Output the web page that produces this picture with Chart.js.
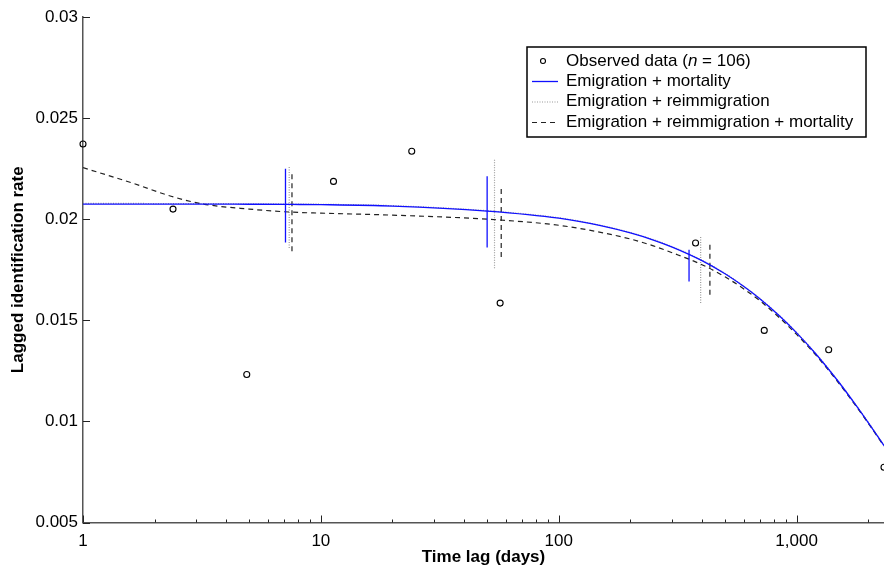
<!DOCTYPE html>
<html>
<head>
<meta charset="utf-8">
<script src="https://cdn.jsdelivr.net/npm/chart.js@4.4.1/dist/chart.umd.min.js"></script>
<style>
  html, body { margin: 0; padding: 0; background: #fff; }
  canvas { display: block; }
</style>
</head>
<body>
<canvas id="chart" width="884" height="577"></canvas>
<script>
// observed points
const obsDays = [1, 2.39, 4.88, 11.3, 24.1, 56.7, 376, 731, 1364, 2330];
const obsRate = [0.02372, 0.0205, 0.01232, 0.02187, 0.02336, 0.01585, 0.01882, 0.0145, 0.01354, 0.00773];

// fitted curves
const curveDays = [1, 1.6, 2.4, 3.2, 5, 7.5, 10, 20, 50, 100, 150, 200, 250, 300, 400, 500, 600, 700, 850, 1000, 1200, 1500, 1750, 2000, 2330];
const emigMort = [0.02075, 0.02075, 0.02075, 0.02075, 0.02074, 0.02073, 0.02072, 0.02065, 0.0204, 0.02005, 0.01968, 0.01932, 0.01897, 0.01862, 0.01795, 0.0173, 0.01667, 0.01607, 0.0152, 0.01438, 0.01336, 0.01196, 0.0109, 0.00994, 0.0088];
const emigReimm = [0.02078, 0.02078, 0.02077, 0.02077, 0.02076, 0.02075, 0.02074, 0.02067, 0.02042, 0.02007, 0.0197, 0.01934, 0.01899, 0.01864, 0.01797, 0.01732, 0.01669, 0.01609, 0.01522, 0.0144, 0.01338, 0.01198, 0.01092, 0.00996, 0.00882];
const emigReimmMort = [0.02255, 0.0218, 0.0211, 0.02075, 0.0205, 0.02035, 0.0203, 0.0202, 0.0200, 0.0197, 0.01935, 0.01902, 0.01868, 0.01834, 0.01775, 0.01715, 0.01655, 0.01597, 0.01511, 0.0143, 0.0133, 0.01191, 0.01086, 0.00991, 0.00878];

// vertical interval bars: x, low, high
const barSolidX = [7.1, 50, 353];
const barSolidLo = [0.01885, 0.0186, 0.01692];
const barSolidHi = [0.0225, 0.02212, 0.01849];
const barDotX = [7.36, 53.7, 395];
const barDotLo = [0.01857, 0.01758, 0.01585];
const barDotHi = [0.02261, 0.02295, 0.0192];
const barDashX = [7.56, 57.3, 432];
const barDashLo = [0.01841, 0.01813, 0.01626];
const barDashHi = [0.02229, 0.02162, 0.01874];

// axes
const xTickValues = [1, 10, 100, 1000];
const xTickLabels = ['1', '10', '100', '1,000'];
const yTickLabels = ['0.005', '0.01', '0.015', '0.02', '0.025', '0.03'];

const BLUE = '#1010ff';
const DOT = '#999';
const DASH = '#222';

const solidStyle = { borderColor: BLUE, borderWidth: 1.3, borderDash: [] };
const dotStyle = { borderColor: DOT, borderWidth: 1.2, borderDash: [1, 1.5] };
const dashStyle = { borderColor: DASH, borderWidth: 1.2, borderDash: [5, 4] };

function curve(vals, style) {
    return Object.assign({
        data: curveDays.map((d, i) => ({ x: d, y: vals[i] })),
        showLine: true,
        pointRadius: 0,
        cubicInterpolationMode: 'monotone',
        fill: false
    }, style);
}

function bars(xs, lo, hi, style) {
    return xs.map((d, i) => Object.assign({
        data: [{ x: d, y: lo[i] }, { x: d, y: hi[i] }],
        showLine: true,
        pointRadius: 0,
        fill: false
    }, style));
}

const datasets = [
    {
        data: obsDays.map((d, i) => ({ x: d, y: obsRate[i] })),
        pointStyle: 'circle',
        pointRadius: 3,
        pointBorderColor: '#000',
        pointBorderWidth: 1.1,
        pointBackgroundColor: 'rgba(255,255,255,0)',
        showLine: false,
        clip: false
    },
    curve(emigMort, solidStyle),
    ...bars(barSolidX, barSolidLo, barSolidHi, solidStyle),
    curve(emigReimmMort, dashStyle),
    ...bars(barDashX, barDashLo, barDashHi, dashStyle),
    curve(emigReimm, dotStyle),
    ...bars(barDotX, barDotLo, barDotHi, dotStyle)
];

// small tick marks pointing into the plot
const innerTicks = {
    id: 'innerTicks',
    afterDraw(chart) {
        const { ctx, chartArea, scales: { x, y } } = chart;
        ctx.save();
        ctx.strokeStyle = '#222';
        ctx.lineWidth = 1;
        x.ticks.forEach(t => {
            const e = Math.floor(Math.log10(t.value) + 1e-9);
            const m = t.value / Math.pow(10, e);
            if (Math.abs(m - Math.round(m)) > 1e-6) return;
            const len = Math.round(m) === 1 ? 7 : 3;
            const px = Math.round(x.getPixelForValue(t.value)) + 0.5;
            ctx.beginPath();
            ctx.moveTo(px, chartArea.bottom);
            ctx.lineTo(px, chartArea.bottom - len);
            ctx.stroke();
        });
        y.ticks.forEach(t => {
            const py = Math.round(y.getPixelForValue(t.value)) + 0.5;
            ctx.beginPath();
            ctx.moveTo(chartArea.left, py);
            ctx.lineTo(chartArea.left + 7, py);
            ctx.stroke();
        });
        ctx.restore();
    }
};

// legend box drawn by hand so the "n" can be italic
const legendBox = {
    id: 'legendBox',
    afterDraw(chart) {
        const ctx = chart.ctx;
        const left = 527, top = 47, w = 339, h = 90;
        const rows = [61, 81, 101.5, 122];
        const tx = 566;
        ctx.save();
        ctx.fillStyle = '#fff';
        ctx.fillRect(left, top, w, h);
        ctx.strokeStyle = '#000';
        ctx.lineWidth = 1.5;
        ctx.strokeRect(left, top, w, h);

        // marker
        ctx.lineWidth = 1.1;
        ctx.beginPath();
        ctx.arc(543, rows[0], 2.5, 0, Math.PI * 2);
        ctx.stroke();

        const samples = [solidStyle, dotStyle, dashStyle];
        samples.forEach((s, i) => {
            ctx.strokeStyle = s.borderColor;
            ctx.lineWidth = s.borderWidth;
            ctx.setLineDash(s.borderDash);
            ctx.beginPath();
            ctx.moveTo(532, rows[i + 1] + 0.5);
            ctx.lineTo(558, rows[i + 1] + 0.5);
            ctx.stroke();
        });
        ctx.setLineDash([]);

        ctx.fillStyle = '#000';
        ctx.textBaseline = 'middle';
        ctx.textAlign = 'left';
        const normal = '17px "Liberation Sans", Arial, sans-serif';
        const italic = 'italic 17px "Liberation Sans", Arial, sans-serif';
        let cx = tx;
        [['Observed data (', normal], ['n', italic], [' = 106)', normal]].forEach(([s, f]) => {
            ctx.font = f;
            ctx.fillText(s, cx, rows[0]);
            cx += ctx.measureText(s).width;
        });
        ctx.font = normal;
        ctx.fillText('Emigration + mortality', tx, rows[1]);
        ctx.fillText('Emigration + reimmigration', tx, rows[2]);
        ctx.fillText('Emigration + reimmigration + mortality', tx, rows[3]);
        ctx.restore();
    }
};

const tickFont = { family: '"Liberation Sans", Arial, sans-serif', size: 17 };
const titleFont = { family: '"Liberation Sans", Arial, sans-serif', size: 17, weight: 'bold' };

new Chart(document.getElementById('chart'), {
    type: 'scatter',
    data: { datasets: datasets },
    options: {
        responsive: false,
        animation: false,
        events: [],
        layout: { autoPadding: false, padding: { top: 17, right: 0, bottom: 0, left: 0 } },
        plugins: {
            legend: { display: false },
            tooltip: { enabled: false }
        },
        scales: {
            x: {
                type: 'logarithmic',
                min: 1,
                max: 2330,
                grid: { display: false, drawTicks: false },
                border: { display: true, color: '#555', width: 1.5 },
                ticks: {
                    autoSkip: false,
                    maxRotation: 0,
                    padding: 9,
                    color: '#000',
                    font: tickFont,
                    callback: function (v) {
                        const i = xTickValues.indexOf(Math.round(v * 1000) / 1000);
                        return i >= 0 ? xTickLabels[i] : '';
                    }
                },
                title: {
                    display: true,
                    text: 'Time lag (days)',
                    color: '#000',
                    font: titleFont,
                    padding: { top: 0, bottom: 9 }
                },
                afterFit: function (s) {
                    s.height = 54.5;
                    s.paddingLeft = 0;
                    s.paddingRight = 0;
                }
            },
            y: {
                min: 0.005,
                max: 0.03,
                grid: { display: false, drawTicks: false },
                border: { display: true, color: '#555', width: 1.5 },
                ticks: {
                    stepSize: 0.005,
                    padding: 5,
                    color: '#000',
                    font: tickFont,
                    callback: function (v, i) { return yTickLabels[i]; }
                },
                title: {
                    display: true,
                    text: 'Lagged identification rate',
                    color: '#000',
                    font: titleFont,
                    padding: { top: 8, bottom: 0 }
                },
                afterFit: function (s) { s.width = 83; }
            }
        }
    },
    plugins: [innerTicks, legendBox]
});
</script>
</body>
</html>
